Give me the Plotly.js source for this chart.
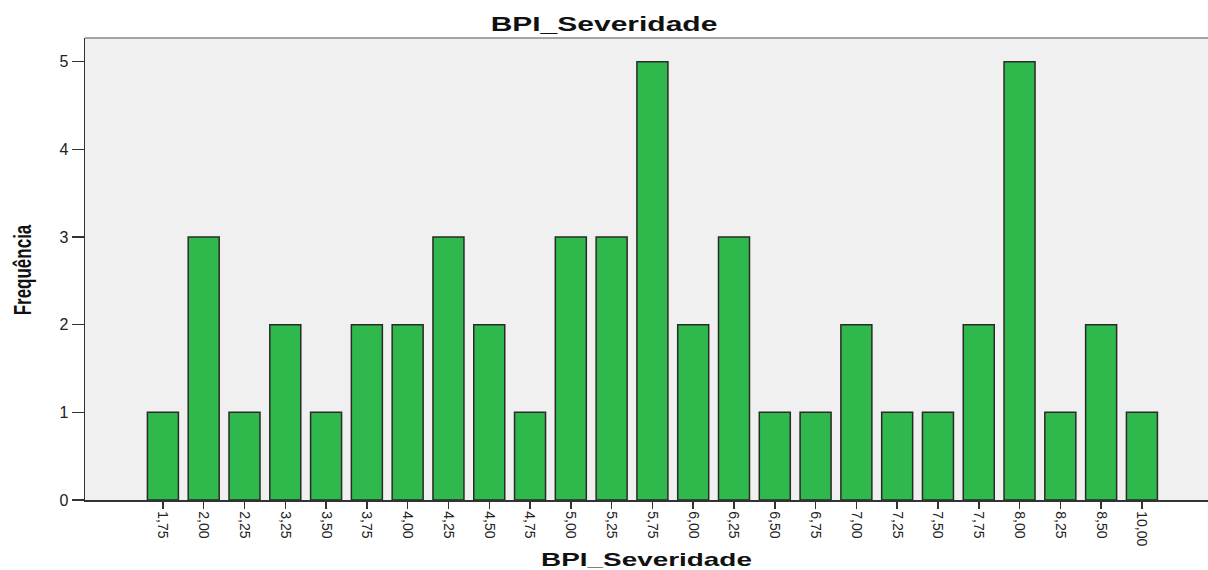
<!DOCTYPE html>
<html>
<head>
<meta charset="utf-8">
<script src="https://cdn.plot.ly/plotly-3.0.1.min.js"></script>
<style>
html,body{margin:0;padding:0;background:#fff;}
#chart{width:1208px;height:570px;}
#chart text.gtitle{transform-box:fill-box;transform-origin:center;transform:scaleX(1.5);}
#chart text.xtitle{transform-box:fill-box;transform-origin:center;transform:scaleX(1.55);}
#chart text.ytitle{transform-box:fill-box;transform-origin:center;transform:translate(-10px,7px) rotate(-90deg) scaleY(1.4);}
</style>
</head>
<body>
<div id="chart"></div>
<script>
const categories = ["1,75","2,00","2,25","3,25","3,50","3,75","4,00","4,25","4,50","4,75","5,00","5,25","5,75","6,00","6,25","6,50","6,75","7,00","7,25","7,50","7,75","8,00","8,25","8,50","10,00"];
const frequencies = [1,3,1,2,1,2,2,3,2,1,3,3,5,2,3,1,1,2,1,1,2,5,1,2,1];
const yTicks = [0,1,2,3,4,5];

const trace = {
  type: 'bar',
  x: categories,
  y: frequencies,
  marker: {color: '#2fb84b', line: {color: '#2a2a2a', width: 1.5}},
  hoverinfo: 'x+y'
};

const layout = {
  width: 1208, height: 570,
  margin: {l: 85, r: 0, t: 38, b: 70},
  paper_bgcolor: '#ffffff',
  plot_bgcolor: '#f0f0f0',
  bargap: 0.24,
  showlegend: false,
  title: {text: 'BPI_Severidade', font: {family: 'Liberation Sans, Arial, sans-serif', size: 20, color: '#111', weight: 'bold'}, x: 0.5, xanchor: 'center', y: 0.958, yanchor: 'middle'},
  xaxis: {
    type: 'category',
    range: [-1.91, 25.62],
    tickangle: 90,
    ticks: 'outside', ticklen: 7, tickwidth: 1.5, tickcolor: '#333',
    tickfont: {family: 'Liberation Sans, Arial, sans-serif', size: 14, color: '#222'},
    showline: true, linecolor: '#333', linewidth: 1.5,
    showgrid: false, zeroline: false,
    title: {text: 'BPI_Severidade', font: {family: 'Liberation Sans, Arial, sans-serif', size: 18, color: '#111', weight: 'bold'}, standoff: 10}
  },
  yaxis: {
    range: [0, 5.27],
    tickvals: yTicks,
    ticktext: yTicks.map(String),
    ticks: 'outside', ticklen: 12, tickwidth: 1.5, tickcolor: '#333',
    tickfont: {family: 'Liberation Sans, Arial, sans-serif', size: 16, color: '#222'},
    showline: true, linecolor: '#333', linewidth: 1.5,
    showgrid: false, zeroline: false,
    title: {text: 'Frequência', font: {family: 'Liberation Sans, Arial, sans-serif', size: 17, color: '#111', weight: 'bold'}, standoff: 22}
  },
  shapes: [
    {type: 'line', xref: 'paper', yref: 'paper', x0: 0, x1: 1, y0: 1, y1: 1, line: {color: '#888', width: 1.5}}
  ]
};

Plotly.newPlot('chart', [trace], layout, {displayModeBar: false, staticPlot: true});
</script>
</body>
</html>
